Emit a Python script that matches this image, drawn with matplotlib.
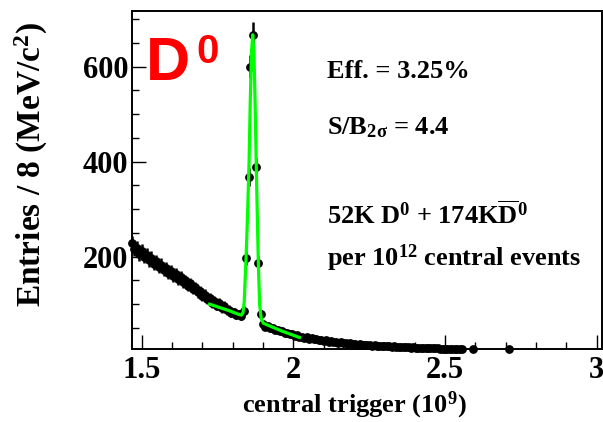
import matplotlib
matplotlib.use("Agg")
import numpy as np
import matplotlib.pyplot as plt
from matplotlib.ticker import MultipleLocator

# sideband bins (8 MeV wide)
left_start = 1.468
left_y = [228, 216, 219, 205, 212, 200, 204, 193, 197, 185,
          190, 179, 183, 172, 176, 165, 169, 159, 163, 153,
          157, 146, 150, 139, 144, 132, 136, 125, 128, 117,
          120, 110, 113, 103, 107, 97, 102, 92, 96, 87,
          88, 81, 83, 77, 79, 76, 86]

right_start = 1.900
right_y = [58, 53, 54, 49, 50, 46, 46, 43, 43, 40,
           40, 37, 37, 34, 35, 31, 32, 29, 30, 27,
           28, 26, 27, 24, 25, 22, 24, 21, 22, 20,
           21, 19, 20, 18, 19, 17, 18, 16, 17, 15,
           16, 15, 15, 14, 15, 13, 14, 12, 13, 12,
           12, 11, 12, 10, 11, 10, 10, 9, 10, 9,
           9, 8, 9, 8, 8, 8, 8, 7, 8, 7,
           7, 7, 7, 6, 6, 6, 6, 6, 6, 5,
           5, 5, 5]
bin_width = 0.008

peak_x = [1.844, 1.853, 1.857, 1.868, 1.877, 1.884, 1.892]
peak_y = [197, 368, 600, 667, 388, 187, 79]

tail_x = [2.593, 2.712]
tail_y = [5, 5]

# fit curve vertices (green)
fit_x = [1.724, 1.790, 1.818, 1.828, 1.834, 1.838, 1.844, 1.849, 1.854, 1.858,
         1.862, 1.866, 1.870, 1.874, 1.878, 1.882, 1.885, 1.889, 1.894, 1.901,
         1.960, 2.020]
fit_y = [100, 86, 79, 77, 82, 105, 197, 288, 400, 530,
         630, 667, 630, 520, 380, 260, 175, 98, 70, 60,
         44, 30]

plt.rcParams['font.family'] = ['Liberation Serif', 'DejaVu Serif']
plt.rcParams['font.weight'] = 'bold'
plt.rcParams['mathtext.fontset'] = 'custom'
plt.rcParams['mathtext.rm'] = 'Liberation Serif:bold'
plt.rcParams['mathtext.it'] = 'Liberation Serif:bold'
plt.rcParams['mathtext.bf'] = 'Liberation Serif:bold'

W, H = 603, 422
fig = plt.figure(figsize=(W / 100, H / 100), dpi=100)
ax = fig.add_axes([131.7 / W, 1 - 349 / H, (601.5 - 131.7) / W, (349 - 11) / H])

x = np.concatenate([left_start + bin_width * np.arange(len(left_y)),
                    peak_x,
                    right_start + bin_width * np.arange(len(right_y)),
                    tail_x])
y = np.array(left_y + peak_y + right_y + tail_y, dtype=float)

ax.errorbar(x, y, yerr=np.sqrt(y), fmt='o', color='black', ms=5.3,
            elinewidth=1.8, capsize=0, clip_on=False, zorder=2)
ax.plot(fit_x, fit_y, color='#00ff00', lw=2.3, zorder=3)

ax.set_xlim(1.467, 3.016)
ax.set_ylim(5.7, 717)
ax.xaxis.set_major_locator(MultipleLocator(0.5))
ax.xaxis.set_minor_locator(MultipleLocator(0.1))
ax.yaxis.set_major_locator(MultipleLocator(200))
ax.yaxis.set_minor_locator(MultipleLocator(50))
ax.xaxis.set_major_formatter(matplotlib.ticker.FuncFormatter(lambda v, p: f"{v:g}"))
ax.tick_params(which='both', direction='in', top=False, right=False, width=1.0)
ax.tick_params(which='major', length=10, labelsize=22)
ax.tick_params(which='minor', length=5)
ax.tick_params(axis='y', pad=2.5)
ax.tick_params(axis='x', pad=5)
for s in ax.spines.values():
    s.set_linewidth(1.4)

fig.text(354 / W, 1 - 405 / H, r'central trigger (10$^9$)', fontsize=19,
         ha='center', va='center')
fig.text(31 / W, 1 - 165 / H, r'Entries / 8 (MeV/c$^2$)', fontsize=24,
         rotation=90, ha='center', va='center')

tx = 327 / W
fs = 19
fig.text(tx, 1 - 72 / H, 'Eff. = 3.25%', fontsize=fs, va='center')
fig.text(tx, 1 - 128 / H, r'S/B$_{2\sigma}$ = 4.4', fontsize=fs, va='center')
fig.text(tx, 1 - 215 / H, r'52K D$^0$ + 174K$\overline{\mathrm{D}}^0$', fontsize=fs, va='center')
fig.text(tx, 1 - 258 / H, r'per 10$^{12}$ central events', fontsize=fs, va='center')

fig.text(146 / W, 1 - 80 / H, 'D', fontsize=44, color='#ff0000',
         family='Liberation Sans', weight='bold', ha='left', va='baseline')
fig.text(196 / W, 1 - 33 / H, '0', fontsize=29, color='#ff0000',
         family='Liberation Sans', weight='bold', ha='left', va='top')

fig.savefig('out.png', dpi=100)
plt.close(fig)
